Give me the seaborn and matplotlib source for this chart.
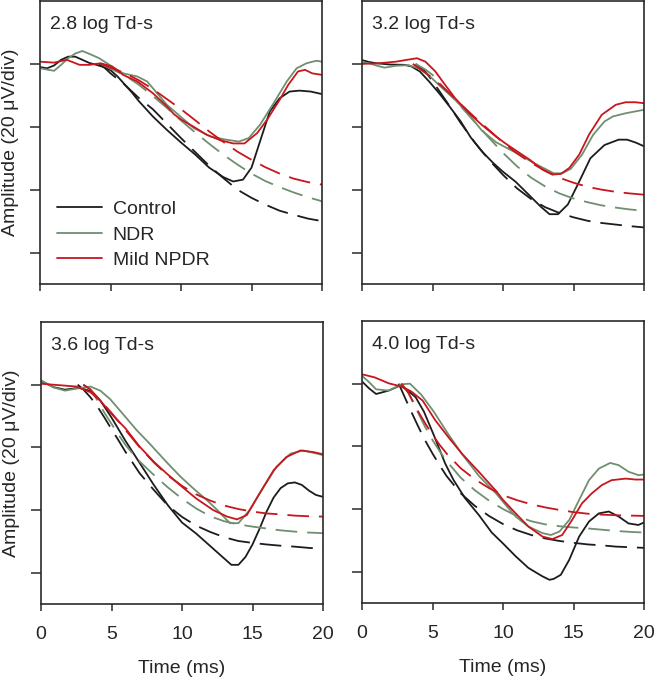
import matplotlib
matplotlib.use("Agg")
import matplotlib.pyplot as plt
from matplotlib.lines import Line2D
import seaborn as sns
import pandas as pd

# ---------------- data (time in ms, amplitude in microvolts) ----------------
panel_titles = ["2.8 log Td-s", "3.2 log Td-s", "3.6 log Td-s", "4.0 log Td-s"]
groups = ["Control", "NDR", "Mild NPDR"]
x_ticks = [0, 5, 10, 15, 20]
y_ticks = [0, -20, -40, -60]

# 2.8 log Td-s
p28_ctrl_t = [0, 0.5, 1, 1.5, 2, 2.5, 3, 3.5, 4, 4.5, 5, 5.5, 6, 6.5, 7, 8, 9, 10, 11, 12, 13, 13.7, 14.4, 15, 15.6, 16.3, 17, 17.7, 18.4, 19.2, 20]
p28_ctrl_v = [-1.0, -1.4, -0.5, 1.3, 2.3, 2.3, 1.3, 0.3, -0.3, -1.0, -2.0, -4.0, -6.5, -9.0, -11.8, -16.7, -21.0, -25.0, -28.8, -33.0, -36.0, -37.4, -36.8, -33.0, -24.7, -15.1, -10.9, -8.8, -8.5, -8.8, -9.6]
p28_ctrl_fit_t = [4.2, 4.6, 5, 6, 7, 8, 9, 10, 11, 12, 13, 14, 15, 16, 17, 18, 19, 20]
p28_ctrl_fit_v = [0, -1.3, -3.0, -6.6, -10.8, -14.4, -19.0, -23.6, -28.0, -32.4, -36.3, -40.0, -42.6, -44.8, -46.7, -48.0, -49.2, -50.0]
p28_ndr_t = [0, 0.5, 1, 1.5, 2, 2.5, 3, 3.5, 4.2, 5.1, 5.9, 6.9, 7.6, 8.3, 9.0, 9.9, 10.9, 12.1, 13.2, 14.1, 14.8, 15.6, 16.5, 17.5, 18.2, 18.9, 19.6, 20]
p28_ndr_v = [-1.4, -1.8, -2.2, -0.3, 1.8, 3.3, 4.1, 3.2, 1.8, -0.8, -3.0, -4.0, -5.6, -9.3, -13.0, -16.5, -20.4, -23.1, -24.1, -24.7, -23.6, -19.4, -13.0, -5.6, -1.4, 0.2, 1.0, 0.7]
p28_ndr_fit_t = [4.3, 5, 6, 7, 8, 9, 10, 11, 12, 13, 14, 15, 16, 17, 18, 19, 20]
p28_ndr_fit_v = [0, -1.5, -3.6, -6.6, -10.2, -14.0, -18.0, -21.8, -25.4, -28.9, -32.0, -34.9, -37.3, -39.2, -40.9, -42.4, -43.7]
p28_mild_t = [0, 1, 1.9, 2.8, 3.5, 4.3, 5.1, 5.9, 6.9, 8.0, 9.0, 9.5, 10.0, 10.9, 11.8, 12.8, 13.7, 14.5, 15.4, 16.1, 17.0, 17.6, 18.3, 18.8, 19.3, 20]
p28_mild_v = [0.7, 0.4, 1.3, -0.3, -0.3, 0.2, -0.8, -3.5, -5.6, -9.3, -13.5, -16.0, -17.7, -20.0, -22.5, -24.3, -25.3, -25.3, -22.0, -17.8, -11.4, -6.7, -2.4, -1.9, -3.0, -3.5]
p28_mild_fit_t = [4.3, 5, 6, 7, 8, 9, 10, 11, 12, 13, 14, 15, 16, 17, 18, 19, 20]
p28_mild_fit_v = [0, -1.2, -2.9, -5.2, -8.0, -11.2, -14.4, -17.9, -21.5, -24.8, -27.9, -30.5, -32.9, -34.9, -36.5, -37.6, -38.4]

# 3.2 log Td-s
p32_ctrl_t = [0, 0.5, 1, 2, 3, 3.5, 4.1, 4.8, 5.5, 6.2, 7.0, 7.7, 8.5, 9.3, 10.0, 10.9, 11.8, 12.7, 13.3, 13.9, 14.6, 15.3, 16.2, 17.2, 18.2, 18.8, 19.4, 20]
p32_ctrl_v = [1.2, 0.6, 0.2, -0.2, -0.3, -0.8, -2.4, -5.8, -9.5, -13.5, -18.3, -23.3, -27.8, -31.5, -34.3, -37.5, -41.5, -45.5, -47.8, -47.8, -44.7, -38.4, -30.0, -25.8, -24.1, -24.1, -25.0, -26.2]
p32_ctrl_fit_t = [3.8, 4.5, 5, 6, 7, 8, 9, 10, 11, 12, 13, 14, 15, 16, 17, 18, 19, 20]
p32_ctrl_fit_v = [0, -2.5, -5.5, -12.0, -18.8, -25.0, -30.5, -35.3, -39.6, -43.0, -45.6, -47.4, -48.8, -49.9, -50.6, -51.1, -51.6, -52.0]
p32_ndr_t = [0, 0.5, 1, 1.6, 2.4, 3.3, 4.0, 4.7, 5.7, 6.6, 7.6, 8.5, 9.5, 10.3, 11.2, 12.2, 13.0, 13.6, 14.2, 14.8, 15.6, 16.4, 17.2, 17.8, 18.7, 19.4, 20]
p32_ndr_v = [0.5, 0.2, -0.5, -1.2, -0.6, -0.4, -1.4, -3.5, -7.7, -11.4, -16.2, -21.2, -24.9, -26.8, -28.9, -31.6, -33.4, -34.8, -34.8, -33.4, -28.9, -22.5, -18.3, -16.7, -15.7, -15.1, -14.6]
p32_ndr_fit_t = [3.8, 4.5, 5, 6, 7, 8, 9, 10, 11, 12, 13, 14, 15, 16, 17, 18, 19, 20]
p32_ndr_fit_v = [0, -1.8, -3.5, -8.5, -13.5, -18.5, -23.5, -28.3, -32.6, -36.2, -39.0, -41.2, -42.8, -44.0, -45.0, -45.7, -46.3, -46.7]
p32_mild_t = [0, 1.2, 2.4, 3.2, 3.9, 4.5, 5.2, 5.9, 6.6, 7.6, 8.5, 9.5, 10.3, 11.0, 11.9, 12.8, 13.5, 14.1, 14.7, 15.4, 16.1, 17.0, 18.0, 18.7, 19.4, 20]
p32_mild_v = [0.0, 0.2, 0.7, 1.3, 1.8, 0.7, -2.4, -6.7, -10.9, -15.7, -19.4, -23.1, -25.7, -27.8, -30.5, -33.6, -35.2, -35.0, -33.1, -28.9, -22.5, -16.2, -13.0, -12.2, -12.2, -12.5]
p32_mild_fit_t = [3.6, 4, 5, 6, 7, 8, 9, 10, 11, 12, 13, 14, 15, 16, 17, 18, 19, 20]
p32_mild_fit_v = [0, -1.2, -4.5, -8.5, -12.8, -17.0, -21.0, -25.0, -28.5, -31.5, -34.0, -36.2, -37.8, -39.1, -40.0, -40.7, -41.2, -41.6]

# 3.6 log Td-s
p36_ctrl_t = [0, 0.9, 1.7, 2.7, 3.5, 4.2, 5, 6, 7, 8, 9, 10, 11, 12, 13, 13.5, 14, 14.5, 15, 15.5, 16, 16.5, 17, 17.5, 18, 18.5, 19, 19.5, 20]
p36_ctrl_v = [1.2, -0.8, -1.6, -1.0, -2.0, -5.0, -10.5, -18.0, -25.0, -32.0, -38.5, -44.0, -47.5, -51.5, -55.5, -57.5, -57.5, -55.0, -51.0, -46.0, -40.5, -36.0, -33.0, -31.5, -31.2, -32.0, -33.8, -35.2, -35.8]
p36_ctrl_fit_t = [2.6, 3.0, 3.5, 4, 4.5, 5, 5.5, 6, 7, 8, 9, 10, 11, 12, 13, 14, 15, 16, 17, 18, 19, 20]
p36_ctrl_fit_v = [0, -1.5, -4.0, -7.0, -10.5, -14.2, -17.8, -21.5, -28.3, -33.6, -38.6, -42.2, -45.0, -47.0, -48.7, -49.9, -50.5, -51.0, -51.4, -51.7, -52.1, -52.4]
p36_ndr_t = [0, 0.9, 1.7, 2.6, 3.5, 4.2, 4.9, 5.8, 6.8, 7.7, 8.9, 9.9, 10.8, 11.75, 12.5, 13.4, 14.0, 14.8, 15.8, 16.7, 17.7, 18.6, 19.55, 20]
p36_ndr_v = [1.4, -0.9, -1.9, -1.2, -0.6, -1.9, -4.6, -9.3, -14.6, -18.8, -24.7, -29.4, -33.1, -36.8, -40.0, -44.2, -44.2, -40.0, -32.6, -26.2, -22.0, -21.0, -22.0, -22.5]
p36_ndr_fit_t = [3.0, 3.5, 4, 4.5, 5, 5.5, 6, 6.5, 7, 7.5, 8, 9, 10, 11, 12, 13, 14, 15, 16, 17, 18, 19, 20]
p36_ndr_fit_v = [0, -1.5, -5.0, -9.0, -12.5, -16.0, -19.3, -22.0, -24.5, -26.7, -28.8, -32.8, -36.4, -39.5, -42.0, -43.6, -44.6, -45.3, -45.9, -46.5, -46.9, -47.2, -47.4]
p36_mild_t = [0, 1.4, 2.5, 3.5, 4.2, 5.1, 6.0, 7.0, 8.0, 8.9, 9.9, 11.0, 12.2, 13.2, 13.9, 14.6, 15.5, 16.5, 17.4, 18.4, 19.3, 20]
p36_mild_v = [0.3, -0.2, -0.6, -2.4, -5.1, -9.8, -14.0, -19.8, -24.6, -28.3, -32.2, -36.3, -40.0, -42.1, -43.0, -41.6, -34.7, -27.3, -23.1, -21.0, -21.5, -22.2]
p36_mild_fit_t = [3.0, 3.5, 4, 5, 6, 7, 8, 9, 10, 11, 12, 13, 14, 15, 16, 17, 18, 19, 20]
p36_mild_fit_v = [0, -1.5, -4.0, -9.0, -14.5, -20.0, -24.8, -29.0, -32.3, -35.0, -37.0, -38.6, -39.7, -40.5, -41.1, -41.4, -41.8, -42.0, -42.1]

# 4.0 log Td-s
p40_ctrl_t = [0, 0.5, 1, 1.9, 2.7, 3.2, 3.8, 4.4, 5.1, 5.9, 6.5, 7.3, 8.3, 9.2, 10.0, 10.9, 11.8, 12.8, 13.3, 13.6, 14.1, 14.7, 15.4, 16.1, 16.8, 17.5, 18.2, 18.9, 19.6, 20]
p40_ctrl_v = [0.7, -1.5, -3.3, -2.2, -0.6, -2.0, -4.3, -9.0, -16.5, -25.5, -30.8, -36.5, -42.0, -47.5, -51.0, -55.1, -58.8, -61.5, -62.6, -62.3, -61.0, -56.2, -48.8, -44.0, -41.4, -40.8, -42.4, -44.6, -45.1, -44.3]
p40_ctrl_fit_t = [2.6, 3, 3.5, 4, 4.5, 5, 5.5, 6, 7, 8, 9, 10, 11, 12, 13, 14, 15, 16, 17, 18, 19, 20]
p40_ctrl_fit_v = [0, -4.0, -9.0, -13.8, -18.3, -22.3, -26.0, -29.5, -35.0, -39.0, -42.2, -44.8, -46.8, -48.3, -49.4, -50.2, -50.8, -51.3, -51.6, -52.0, -52.2, -52.4]
p40_ndr_t = [0, 0.5, 1, 1.9, 2.8, 3.4, 4.2, 5.1, 6.1, 7.1, 8.3, 9.5, 10.3, 10.9, 11.8, 12.8, 13.4, 14.0, 14.7, 15.4, 16.1, 16.8, 17.6, 18.2, 18.9, 19.6, 20]
p40_ndr_v = [2.5, 0.5, -1.8, -2.2, -0.2, 0.0, -3.5, -9.0, -16.0, -22.5, -29.5, -35.0, -39.3, -42.4, -45.6, -47.7, -48.3, -47.2, -43.5, -37.1, -30.8, -27.1, -25.3, -26.0, -28.1, -29.2, -29.0]
p40_ndr_fit_t = [2.8, 3.3, 4, 4.5, 5, 5.5, 6, 7, 8, 9, 10, 11, 12, 13, 14, 15, 16, 17, 18, 19, 20]
p40_ndr_fit_v = [0, -3.0, -9.5, -14.0, -18.0, -21.5, -24.7, -30.0, -34.0, -37.3, -40.0, -42.3, -43.9, -44.9, -45.5, -45.9, -46.2, -46.6, -47.0, -47.3, -47.5]
p40_mild_t = [0, 0.9, 1.9, 2.8, 3.5, 4.3, 5.2, 6.2, 7.1, 8.3, 9.5, 10.0, 10.9, 11.8, 12.8, 13.5, 14.2, 14.9, 15.6, 16.3, 17.0, 17.7, 18.7, 19.4, 20]
p40_mild_v = [3.0, 2.0, 0.1, -0.9, -2.5, -5.4, -11.7, -17.5, -22.4, -28.2, -34.2, -37.1, -41.4, -45.6, -48.8, -49.6, -48.3, -43.5, -38.2, -35.0, -32.4, -30.8, -30.3, -30.6, -30.6]
p40_mild_fit_t = [2.8, 3.3, 4, 4.5, 5, 5.5, 6, 7, 8, 9, 10, 11, 12, 13, 14, 15, 16, 17, 18, 19, 20]
p40_mild_fit_v = [0, -3.0, -9.0, -12.8, -16.3, -19.5, -22.3, -27.0, -30.5, -33.3, -35.6, -37.2, -38.5, -39.5, -40.3, -41.0, -41.5, -41.8, -42.0, -42.1, -42.2]

panel_series = [
    [(p28_ctrl_t, p28_ctrl_v, p28_ctrl_fit_t, p28_ctrl_fit_v),
     (p28_ndr_t, p28_ndr_v, p28_ndr_fit_t, p28_ndr_fit_v),
     (p28_mild_t, p28_mild_v, p28_mild_fit_t, p28_mild_fit_v)],
    [(p32_ctrl_t, p32_ctrl_v, p32_ctrl_fit_t, p32_ctrl_fit_v),
     (p32_ndr_t, p32_ndr_v, p32_ndr_fit_t, p32_ndr_fit_v),
     (p32_mild_t, p32_mild_v, p32_mild_fit_t, p32_mild_fit_v)],
    [(p36_ctrl_t, p36_ctrl_v, p36_ctrl_fit_t, p36_ctrl_fit_v),
     (p36_ndr_t, p36_ndr_v, p36_ndr_fit_t, p36_ndr_fit_v),
     (p36_mild_t, p36_mild_v, p36_mild_fit_t, p36_mild_fit_v)],
    [(p40_ctrl_t, p40_ctrl_v, p40_ctrl_fit_t, p40_ctrl_fit_v),
     (p40_ndr_t, p40_ndr_v, p40_ndr_fit_t, p40_ndr_fit_v),
     (p40_mild_t, p40_mild_v, p40_mild_fit_t, p40_mild_fit_v)],
]

# ---------------- style ----------------
sns.set_style("ticks")
plt.rcParams["font.family"] = ["Liberation Sans", "DejaVu Sans"]
plt.rcParams["font.size"] = 14

colors = {"Control": "#1c1c1c", "NDR": "#6f8f70", "Mild NPDR": "#c8161d"}
dash_map = {"Data": "", "Fit": (12, 5.5)}
LW = 1.3

fig = plt.figure(figsize=(6.54, 6.80), dpi=100)
W, H = 654.0, 680.0
positions = [
    (40 / W, 1 - 284 / H, 282 / W, 283 / H),
    (362 / W, 1 - 284 / H, 282 / W, 283 / H),
    (41 / W, 1 - 604 / H, 282 / W, 282 / H),
    (362 / W, 1 - 603 / H, 282 / W, 282 / H),
]

for i, (pos, title, series) in enumerate(zip(positions, panel_titles, panel_series)):
    ax = fig.add_axes(pos)
    rows = []
    for g, (dt, dv, ft, fv) in zip(groups, series):
        rows += [{"group": g, "kind": "Data", "t": a, "v": b} for a, b in zip(dt, dv)]
        rows += [{"group": g, "kind": "Fit", "t": a, "v": b} for a, b in zip(ft, fv)]
    df = pd.DataFrame(rows)
    sns.lineplot(data=df, x="t", y="v", hue="group", style="kind",
                 hue_order=groups, style_order=["Data", "Fit"],
                 palette=colors, dashes=dash_map, estimator=None, sort=False,
                 linewidth=LW, legend=False, ax=ax)
    ax.set_xlim(0, 20)
    ax.set_ylim(-70, 20)
    ax.set_xticks(x_ticks)
    ax.set_yticks(y_ticks)
    ax.set_yticklabels([])
    for sp in ax.spines.values():
        sp.set_visible(True)
        sp.set_linewidth(1.2)
        sp.set_color("#2a2a2a")
    ax.tick_params(axis="x", direction="out", length=5, width=1.1, color="#2a2a2a", pad=11, labelsize=14)
    ax.tick_params(axis="y", direction="out", length=7, width=1.1, color="#2a2a2a")
    if i < 2:
        ax.set_xticklabels([])
        ax.set_xlabel("")
    else:
        ax.set_xlabel("Time (ms)", fontsize=14)
        ax.xaxis.set_label_coords(0.5, -0.2)
    if i % 2 == 0:
        ax.set_ylabel("Amplitude (20 \u03bcV/div)", fontsize=14)
        ax.yaxis.set_label_coords(-0.074, 0.5)
    else:
        ax.set_ylabel("")
    ax.text(0.035, 0.9, title, transform=ax.transAxes, fontsize=14, va="baseline", ha="left")
    if i == 0:
        handles = [Line2D([0], [0], color=colors[g], lw=LW) for g in groups]
        ax.legend(handles, groups, loc="upper left", bbox_to_anchor=(0.06, 0.295),
                  frameon=False, borderpad=0, borderaxespad=0, handlelength=2.3,
                  handletextpad=0.57, labelspacing=0.4, fontsize=14)

fig.savefig("out.png", dpi=100)
